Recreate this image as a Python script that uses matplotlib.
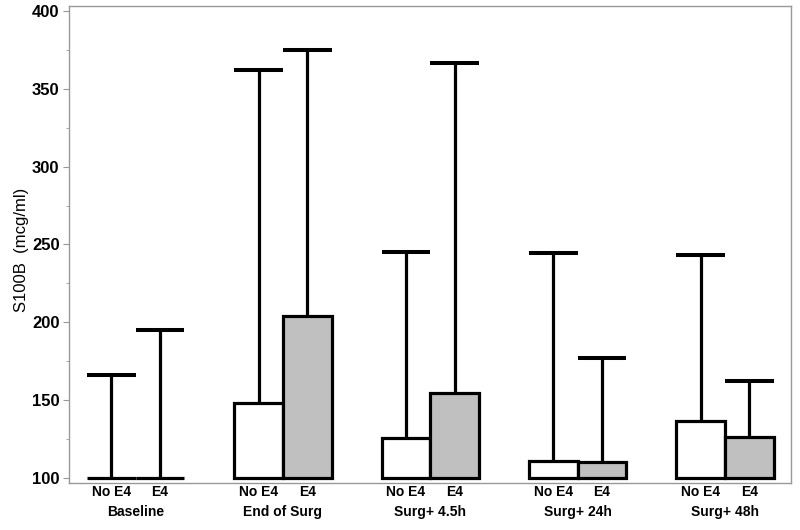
import matplotlib
matplotlib.use("Agg")
import matplotlib.pyplot as plt
from matplotlib.ticker import MultipleLocator
import matplotlib.transforms as mtransforms

groups = ["Baseline", "End of Surg", "Surg+ 4.5h", "Surg+ 24h", "Surg+ 48h"]
sub_labels = ["No E4", "E4"]
no_e4_bar = [100, 148, 126, 111, 137]
no_e4_upper = [166, 362, 245, 244.5, 243]
e4_bar = [100, 204, 155, 110.5, 126.5]
e4_upper = [195, 375, 366.5, 177, 162.5]

base = 100
w = 0.33
plt.rcParams['font.family'] = ['Liberation Sans', 'DejaVu Sans']

fig = plt.figure(figsize=(8, 5.3), dpi=100)
ax = fig.add_axes([0.0866, 0.0887, 0.9024, 0.9000])

x = list(range(len(groups)))
series = [(no_e4_bar, no_e4_upper, "white", -w / 2),
          (e4_bar, e4_upper, "#c0c0c0", w / 2)]
lw = 2.3
for vals, ups, col, off in series:
    xs = [xi + off for xi in x]
    heights = [v - base for v in vals]
    ax.bar(xs, heights, width=w, bottom=base, color=col, edgecolor="black",
           linewidth=lw, zorder=3)
    for xi, v, u in zip(xs, vals, ups):
        ax.plot([xi, xi], [v, u], color="black", lw=lw, solid_capstyle="butt", zorder=2)
        ax.plot([xi - w / 2, xi + w / 2], [u, u], color="black", lw=lw + 0.6,
                solid_capstyle="butt", zorder=2)

ax.set_xlim(-0.45, 4.45)
ax.set_ylim(97, 403)
ax.yaxis.set_major_locator(MultipleLocator(50))
ax.yaxis.set_minor_locator(MultipleLocator(25))
ax.set_xticks([])
for s in ax.spines.values():
    s.set_color("#999999")
    s.set_linewidth(1.0)
ax.tick_params(axis="y", which="both", direction="out", color="#999999", labelsize=12, pad=3)
ax.tick_params(axis="y", which="major", length=4)
ax.tick_params(axis="y", which="minor", length=2.5)
for lab in ax.get_yticklabels():
    lab.set_fontweight("bold")
ax.set_ylabel("S100B  (mcg/ml)", fontsize=12)
ax.yaxis.set_label_coords(-0.0558, 0.488)

trans = mtransforms.blended_transform_factory(ax.transData, fig.transFigure)
for xi, g in zip(x, groups):
    ax.text(xi - w / 2, 0.0717, sub_labels[0], transform=trans, ha="center", va="center",
            fontsize=10, fontweight="bold")
    ax.text(xi + w / 2, 0.0717, sub_labels[1], transform=trans, ha="center", va="center",
            fontsize=10, fontweight="bold")
    ax.text(xi, 0.034, g, transform=trans, ha="center", va="center", fontsize=10,
            fontweight="bold")

fig.savefig("out.png", dpi=100)
